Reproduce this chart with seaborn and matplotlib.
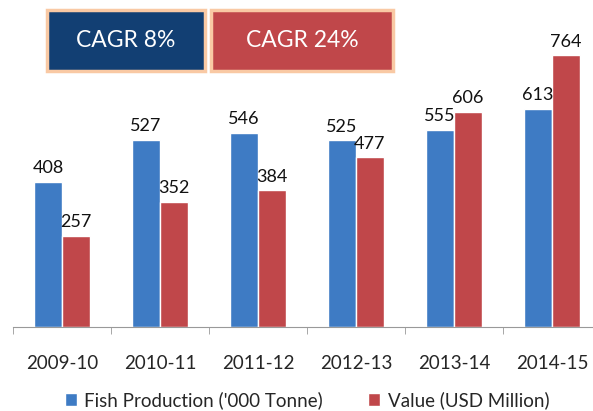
import numpy as np
import pandas as pd
import matplotlib
matplotlib.use("Agg")
import matplotlib.pyplot as plt
import seaborn as sns
from matplotlib.patches import Rectangle

years = ["2009-10", "2010-11", "2011-12", "2012-13", "2013-14", "2014-15"]
production = [408, 527, 546, 525, 555, 613]
value = [257, 352, 384, 477, 606, 764]
series = ["Fish Production ('000 Tonne)", "Value (USD Million)"]
cagr_labels = ["CAGR 8%", "CAGR 24%"]

blue = "#3E7BC4"
red = "#C0474A"

df = pd.DataFrame({
    "year": years * 2,
    "amount": production + value,
    "series": [series[0]] * len(years) + [series[1]] * len(years),
})

sns.set_style("white")
plt.rcParams["font.family"] = ["Lato", "DejaVu Sans"]

W, H = 593, 411
fig = plt.figure(figsize=(W / 100, H / 100), dpi=100)
ax = fig.add_axes([13 / W, (H - 327) / H, 588 / W, 320 / H])

sns.barplot(data=df, x="year", y="amount", hue="series", palette=[blue, red],
            width=0.57, saturation=1, ax=ax, legend=True)

ax.set_xlim(-0.5, 5.5)
ax.set_ylim(0, 900)
for c in ax.containers:
    ax.bar_label(c, padding=4, fontsize=13, color="#111111")

sns.despine(ax=ax, left=True, top=True, right=True)
ax.spines["bottom"].set_color("#999999")
ax.set_yticks([])
ax.set_xlabel("")
ax.set_ylabel("")
ax.set_xticks(np.arange(len(years)))
ax.set_xticklabels(years, fontsize=13.5)
ax.set_xticks(np.arange(-0.5, 6, 1), minor=True)
ax.tick_params(axis="x", which="major", length=0, pad=20)
ax.tick_params(axis="x", which="minor", length=5, color="#999999", bottom=True)

leg = ax.legend(loc="center", bbox_to_anchor=(0.5, -0.228), ncol=2, frameon=False,
                fontsize=13.5, handlelength=0.65, handleheight=0.65, columnspacing=2.4,
                handletextpad=0.4)

boxes = [(47, 10, 158, 61, "#123F73"), (211, 10, 182, 61, red)]
for (x0, y0, bw, bh, col), lab in zip(boxes, cagr_labels):
    fig.patches.append(Rectangle((x0 / W, 1 - (y0 + bh) / H), bw / W, bh / H,
                                 transform=fig.transFigure, facecolor=col,
                                 edgecolor="#F9C9A4", linewidth=2.5))
    fig.text((x0 + bw / 2) / W, 1 - (y0 + bh / 2) / H, lab, color="white",
             fontsize=16.5, ha="center", va="center")

fig.savefig("out.png", dpi=100)
